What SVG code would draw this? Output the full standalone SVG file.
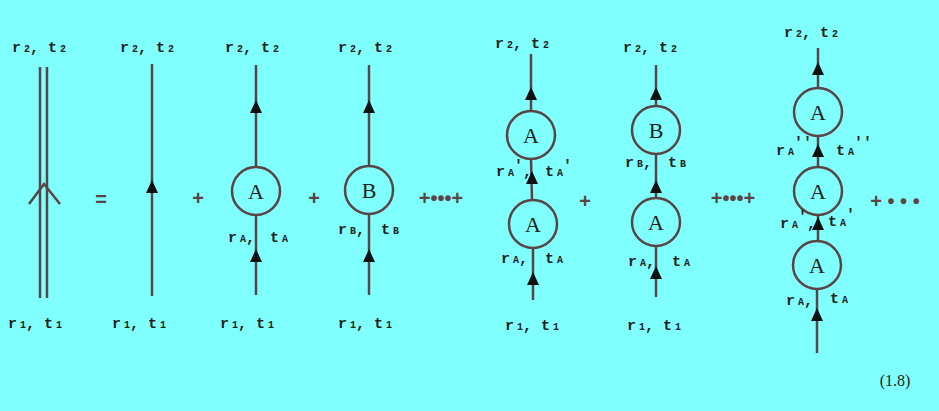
<svg xmlns="http://www.w3.org/2000/svg" width="939" height="411" viewBox="0 0 939 411">
<style>
.l{stroke:#5a4444;stroke-width:2.5;fill:none}
.c{stroke:#5a4444;stroke-width:2.5;fill:none}
.t{font-family:"Liberation Mono",monospace;font-size:15px;font-weight:bold;fill:#222}
.s{font-size:10px}
.n{font-family:"Liberation Serif",serif;font-size:22px;fill:#222;text-anchor:middle}
.o{font-family:"Liberation Sans",sans-serif;font-size:20px;font-weight:bold;fill:#5a4444;text-anchor:middle}
</style>
<defs>
<path id="ar" d="M0,-8 L-6,5 L6,5 Z" fill="#111"/>
</defs>
<rect width="939" height="411" fill="#80FFFF"/>
<g id="connectors">
<line class="l" x1="40" y1="67" x2="40" y2="298"/>
<line class="l" x1="47" y1="67" x2="47" y2="298"/>
<polyline class="l" points="29,204 44,184 60,204" stroke-width="2"/>
<line class="l" x1="152" y1="64" x2="152" y2="296"/>
<use href="#ar" x="152" y="188"/>
<line class="l" x1="256" y1="65" x2="256" y2="167"/>
<line class="l" x1="256" y1="215" x2="256" y2="295"/>
<use href="#ar" x="256" y="108"/><use href="#ar" x="256" y="257"/>
<line class="l" x1="369" y1="65" x2="369" y2="166"/>
<line class="l" x1="369" y1="214" x2="369" y2="295"/>
<use href="#ar" x="369" y="108"/><use href="#ar" x="369" y="257"/>
<line class="l" x1="531" y1="54" x2="531" y2="111" stroke="#000"/>
<line class="l" x1="531" y1="159" x2="532" y2="200"/>
<line class="l" x1="533" y1="248" x2="533" y2="300"/>
<use href="#ar" x="531" y="95"/><use href="#ar" x="532" y="179"/><use href="#ar" x="533" y="280"/>
<line class="l" x1="656" y1="65" x2="656" y2="106"/>
<line class="l" x1="656" y1="154" x2="656" y2="198"/>
<line class="l" x1="656" y1="246" x2="656" y2="297"/>
<use href="#ar" x="656" y="95"/><use href="#ar" x="656" y="188"/><use href="#ar" x="656" y="274"/>
<line class="l" x1="818" y1="48" x2="818" y2="88"/>
<line class="l" x1="818" y1="136" x2="818" y2="167"/>
<line class="l" x1="818" y1="215" x2="818" y2="241"/>
<line class="l" x1="817" y1="289" x2="817" y2="353"/>
<use href="#ar" x="818" y="70"/><use href="#ar" x="818" y="152"/><use href="#ar" x="818" y="225"/><use href="#ar" x="817" y="316"/>
</g>
<g id="nodeA1"><circle class="c" cx="256" cy="191" r="24"/><text class="n" x="256" y="199">A</text></g>
<g id="nodeB1"><circle class="c" cx="369" cy="190" r="24"/><text class="n" x="369" y="198">B</text></g>
<g id="nodeA2"><circle class="c" cx="531" cy="135" r="24"/><text class="n" x="531" y="143">A</text></g>
<g id="nodeA3"><circle class="c" cx="533" cy="224" r="24"/><text class="n" x="533" y="232">A</text></g>
<g id="nodeB2"><circle class="c" cx="656" cy="130" r="24"/><text class="n" x="656" y="138">B</text></g>
<g id="nodeA4"><circle class="c" cx="656" cy="222" r="24"/><text class="n" x="656" y="230">A</text></g>
<g id="nodeA5"><circle class="c" cx="818" cy="112" r="24"/><text class="n" x="818" y="120">A</text></g>
<g id="nodeA6"><circle class="c" cx="818" cy="191" r="24"/><text class="n" x="818" y="199">A</text></g>
<g id="nodeA7"><circle class="c" cx="817" cy="265" r="24"/><text class="n" x="817" y="273">A</text></g>
<g id="labels" class="t">
<text x="12" y="52">r<tspan class="s" dx="3">2</tspan>,  t<tspan class="s" dx="3">2</tspan></text>
<text x="120" y="52">r<tspan class="s" dx="3">2</tspan>,  t<tspan class="s" dx="3">2</tspan></text>
<text x="225" y="52">r<tspan class="s" dx="3">2</tspan>,  t<tspan class="s" dx="3">2</tspan></text>
<text x="338" y="52">r<tspan class="s" dx="3">2</tspan>,  t<tspan class="s" dx="3">2</tspan></text>
<text x="495" y="48">r<tspan class="s" dx="3">2</tspan>,  t<tspan class="s" dx="3">2</tspan></text>
<text x="623" y="52">r<tspan class="s" dx="3">2</tspan>,  t<tspan class="s" dx="3">2</tspan></text>
<text x="784" y="37">r<tspan class="s" dx="3">2</tspan>,  t<tspan class="s" dx="3">2</tspan></text>
<text x="8" y="328">r<tspan class="s" dx="3">1</tspan>,  t<tspan class="s" dx="3">1</tspan></text>
<text x="112" y="328">r<tspan class="s" dx="3">1</tspan>,  t<tspan class="s" dx="3">1</tspan></text>
<text x="220" y="328">r<tspan class="s" dx="3">1</tspan>,  t<tspan class="s" dx="3">1</tspan></text>
<text x="338" y="328">r<tspan class="s" dx="3">1</tspan>,  t<tspan class="s" dx="3">1</tspan></text>
<text x="505" y="330">r<tspan class="s" dx="3">1</tspan>,  t<tspan class="s" dx="3">1</tspan></text>
<text x="627" y="330">r<tspan class="s" dx="3">1</tspan>,  t<tspan class="s" dx="3">1</tspan></text>
<text x="228" y="242">r<tspan class="s" dx="3">A</tspan>,</text><text x="270" y="242">t<tspan class="s" dx="3">A</tspan></text>
<text x="338" y="234">r<tspan class="s" dx="3">B</tspan>,</text><text x="381" y="234">t<tspan class="s" dx="3">B</tspan></text>
<text x="496" y="176">r<tspan class="s" dx="3">A</tspan><tspan dy="-6">'</tspan><tspan dy="6">,</tspan></text><text x="545" y="176">t<tspan class="s" dx="3">A</tspan><tspan dy="-6">'</tspan></text>
<text x="501" y="263">r<tspan class="s" dx="3">A</tspan>,</text><text x="545" y="263">t<tspan class="s" dx="3">A</tspan></text>
<text x="625" y="167">r<tspan class="s" dx="3">B</tspan>,</text><text x="668" y="167">t<tspan class="s" dx="3">B</tspan></text>
<text x="628" y="266">r<tspan class="s" dx="3">A</tspan>,</text><text x="672" y="266">t<tspan class="s" dx="3">A</tspan></text>
<text x="776" y="155">r<tspan class="s" dx="3">A</tspan><tspan dy="-8">''</tspan></text><text x="836" y="155">t<tspan class="s" dx="3">A</tspan><tspan dy="-8">''</tspan></text>
<text x="780" y="228">r<tspan class="s" dx="3">A</tspan><tspan dy="-7">'</tspan><tspan dy="7">,</tspan></text><text x="828" y="226">t<tspan class="s" dx="3">A</tspan><tspan dy="-7">'</tspan></text>
<text x="786" y="305">r<tspan class="s" dx="3">A</tspan>,</text><text x="830" y="303">t<tspan class="s" dx="3">A</tspan></text>
</g>
<g id="operators">
<text class="o" x="101" y="206">=</text>
<text class="o" x="198" y="205" font-size="16">+</text>
<text class="o" x="314" y="205" font-size="16">+</text>
<text class="o" x="441" y="205" font-size="16">+•••+</text>
<text class="o" x="585" y="208" font-size="16">+</text>
<text class="o" x="733" y="205" font-size="16">+•••+</text>
<text class="o" x="895" y="208" font-size="16">+ • • •</text>
</g>
<text x="895" y="386" font-family="Liberation Serif,serif" font-size="16" fill="#222" text-anchor="middle">(1.8)</text>
</svg>
